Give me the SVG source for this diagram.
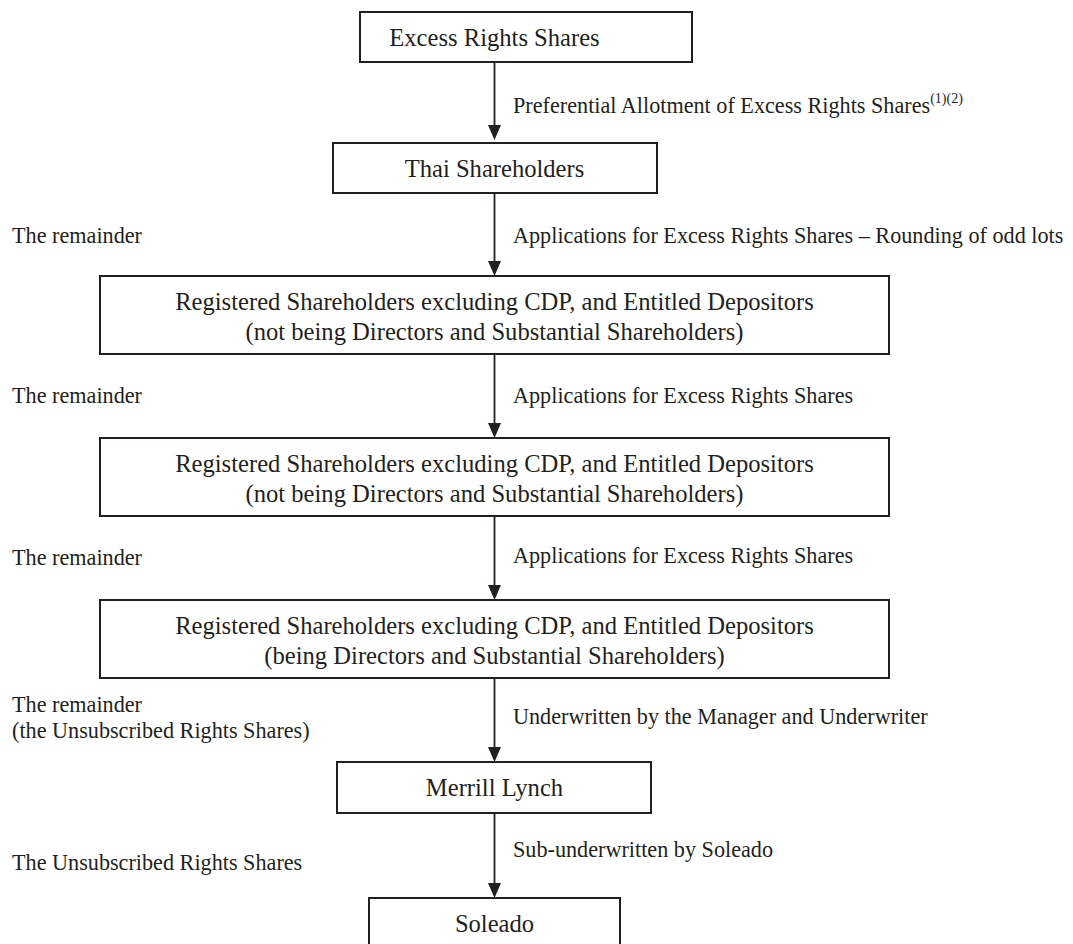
<svg xmlns="http://www.w3.org/2000/svg" width="1073" height="944" viewBox="0 0 1073 944">
<defs>
<style>
.box{fill:#fff;stroke:#231f20;stroke-width:2}
.bt{font-family:"Liberation Serif","Times New Roman",serif;font-size:24.6px;fill:#231f20;text-anchor:middle}
.lb{font-family:"Liberation Serif","Times New Roman",serif;font-size:22.2px;fill:#231f20}
.ln{stroke:#231f20;stroke-width:1.8;fill:none}
.ah{fill:#231f20}
</style>
</defs>
<rect width="1073" height="944" fill="#fff"/>
<g id="connectors">
<line class="ln" x1="494.5" y1="62" x2="494.5" y2="128"/>
<polygon class="ah" points="488,125 501,125 494.5,140"/>
<line class="ln" x1="494.5" y1="193" x2="494.5" y2="264"/>
<polygon class="ah" points="488,261 501,261 494.5,276"/>
<line class="ln" x1="494.5" y1="354" x2="494.5" y2="426"/>
<polygon class="ah" points="488,423 501,423 494.5,438"/>
<line class="ln" x1="494.5" y1="516" x2="494.5" y2="588"/>
<polygon class="ah" points="488,585 501,585 494.5,600"/>
<line class="ln" x1="494.5" y1="678" x2="494.5" y2="750"/>
<polygon class="ah" points="488,747 501,747 494.5,762"/>
<line class="ln" x1="494.5" y1="813" x2="494.5" y2="886"/>
<polygon class="ah" points="488,883 501,883 494.5,898"/>
<text class="lb" x="513" y="113">Preferential Allotment of Excess Rights Shares<tspan font-size="14" dy="-10">(1)(2)</tspan></text>
<text class="lb" x="12" y="243">The remainder</text>
<text class="lb" x="513" y="243">Applications for Excess Rights Shares – Rounding of odd lots</text>
<text class="lb" x="12" y="403">The remainder</text>
<text class="lb" x="513" y="403">Applications for Excess Rights Shares</text>
<text class="lb" x="12" y="565">The remainder</text>
<text class="lb" x="513" y="563">Applications for Excess Rights Shares</text>
<text class="lb" x="12" y="712">The remainder</text>
<text class="lb" x="12" y="738">(the Unsubscribed Rights Shares)</text>
<text class="lb" x="513" y="724">Underwritten by the Manager and Underwriter</text>
<text class="lb" x="513" y="857">Sub-underwritten by Soleado</text>
<text class="lb" x="12" y="870">The Unsubscribed Rights Shares</text>
</g>
<g id="n1">
<rect class="box" x="360" y="12" width="332" height="50"/>
<text class="bt" x="494.5" y="46">Excess Rights Shares</text>
</g>
<g id="n2">
<rect class="box" x="333" y="143" width="324" height="50"/>
<text class="bt" x="494.5" y="177">Thai Shareholders</text>
</g>
<g id="n3">
<rect class="box" x="100" y="276" width="789" height="78"/>
<text class="bt" x="494.5" y="310">Registered Shareholders excluding CDP, and Entitled Depositors</text>
<text class="bt" x="494.5" y="340">(not being Directors and Substantial Shareholders)</text>
</g>
<g id="n4">
<rect class="box" x="100" y="438" width="789" height="78"/>
<text class="bt" x="494.5" y="472">Registered Shareholders excluding CDP, and Entitled Depositors</text>
<text class="bt" x="494.5" y="502">(not being Directors and Substantial Shareholders)</text>
</g>
<g id="n5">
<rect class="box" x="100" y="600" width="789" height="78"/>
<text class="bt" x="494.5" y="634">Registered Shareholders excluding CDP, and Entitled Depositors</text>
<text class="bt" x="494.5" y="664">(being Directors and Substantial Shareholders)</text>
</g>
<g id="n6">
<rect class="box" x="337" y="762" width="314" height="51"/>
<text class="bt" x="494.5" y="796">Merrill Lynch</text>
</g>
<g id="n7">
<rect class="box" x="369" y="898" width="251" height="52"/>
<text class="bt" x="494.5" y="932">Soleado</text>
</g>
</svg>
